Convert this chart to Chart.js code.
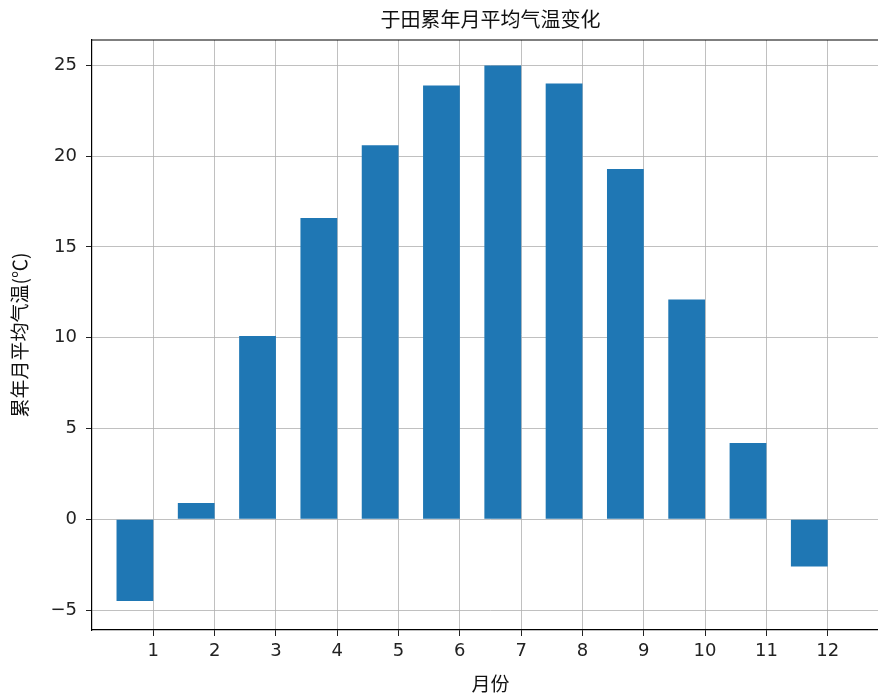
<!DOCTYPE html>
<html lang="zh">
<head>
  <meta charset="UTF-8" />
  <title>于田累年月平均气温变化</title>
  <script src="https://cdn.jsdelivr.net/npm/chart.js"></script>
  <style>
    html, body {
      margin: 0;
      padding: 0;
      background: #fff;
      overflow: hidden;
    }
    /* a bit wider than the window so the right side of the axes is cut off, like the picture */
    .wrap {
      width: 889px;
      height: 699px;
    }
  </style>
</head>
<body>
  <div class="wrap"><canvas id="tempChart"></canvas></div>

  <script>
    const months = [1, 2, 3, 4, 5, 6, 7, 8, 9, 10, 11, 12];
    const temps = [-4.5, 0.9, 10.1, 16.6, 20.6, 23.9, 25.0, 24.0, 19.3, 12.1, 4.2, -2.6];
    const yTicks = [-5, 0, 5, 10, 15, 20, 25];

    const titleText = '于田累年月平均气温变化';
    const xTitle = '月份';
    const yTitle = '累年月平均气温(℃)';

    const cjk = '"Noto Sans CJK SC", "DejaVu Sans", sans-serif';
    const num = '"DejaVu Sans", sans-serif';
    const gridColor = 'rgba(176, 176, 176, 0.8)';

    // bars sit just left of each tick (right edge on the tick)
    const points = months.map((m, i) => ({ x: m - 0.3, y: temps[i] }));

    // top/right spine and the title, centred over the axes like matplotlib does
    const frame = {
      id: 'frame',
      afterDraw(chart) {
        const { ctx, chartArea } = chart;
        ctx.save();
        ctx.strokeStyle = '#000';
        ctx.lineWidth = 1.2;
        ctx.beginPath();
        ctx.moveTo(chartArea.left, chartArea.top);
        ctx.lineTo(chartArea.right, chartArea.top);
        ctx.lineTo(chartArea.right, chartArea.bottom);
        ctx.stroke();

        ctx.fillStyle = '#111';
        ctx.font = '20px ' + cjk;
        ctx.textAlign = 'center';
        ctx.textBaseline = 'middle';
        ctx.fillText(titleText, (chartArea.left + chartArea.right) / 2, 19);
        ctx.restore();
      }
    };

    new Chart(document.getElementById('tempChart'), {
      type: 'bar',
      data: {
        datasets: [{
          data: points,
          backgroundColor: '#1f77b4',
          borderWidth: 0,
          barPercentage: 0.6,
          categoryPercentage: 1
        }]
      },
      options: {
        responsive: true,
        maintainAspectRatio: false,
        animation: false,
        layout: { padding: { left: 0, right: 0, top: 40, bottom: 0 } },
        plugins: {
          legend: { display: false },
          tooltip: { enabled: false },
          title: { display: false }
        },
        scales: {
          x: {
            type: 'linear',
            min: 0,
            max: 13,
            offset: false,
            z: 1,
            afterBuildTicks: s => { s.ticks = months.map(v => ({ value: v })); },
            afterFit: s => { s.height = 69; },
            grid: {
              offset: false,
              color: gridColor,
              lineWidth: 1,
              tickLength: 6,
              tickColor: '#222'
            },
            border: { color: '#000', width: 1.2 },
            ticks: {
              color: '#222',
              padding: 5,
              maxRotation: 0,
              autoSkip: false,
              font: { family: num, size: 18 }
            },
            title: {
              display: true,
              text: xTitle,
              color: '#111',
              font: { family: cjk, size: 19 },
              padding: { top: 4, bottom: 4 }
            }
          },
          y: {
            min: -6.1,
            max: 26.4,
            z: 1,
            afterBuildTicks: s => { s.ticks = yTicks.map(v => ({ value: v })); },
            afterFit: s => { s.width = 92; },
            grid: {
              color: gridColor,
              lineWidth: 1,
              tickLength: 6,
              tickColor: '#222'
            },
            border: { color: '#000', width: 1.2 },
            ticks: {
              color: '#222',
              padding: 9,
              font: { family: num, size: 18 },
              callback: v => String(v).replace('-', '\u2212')
            },
            title: {
              display: true,
              text: yTitle,
              color: '#111',
              font: { family: cjk, size: 19 },
              padding: { top: 8, bottom: 4 }
            }
          }
        }
      },
      plugins: [frame]
    });
  </script>
</body>
</html>
